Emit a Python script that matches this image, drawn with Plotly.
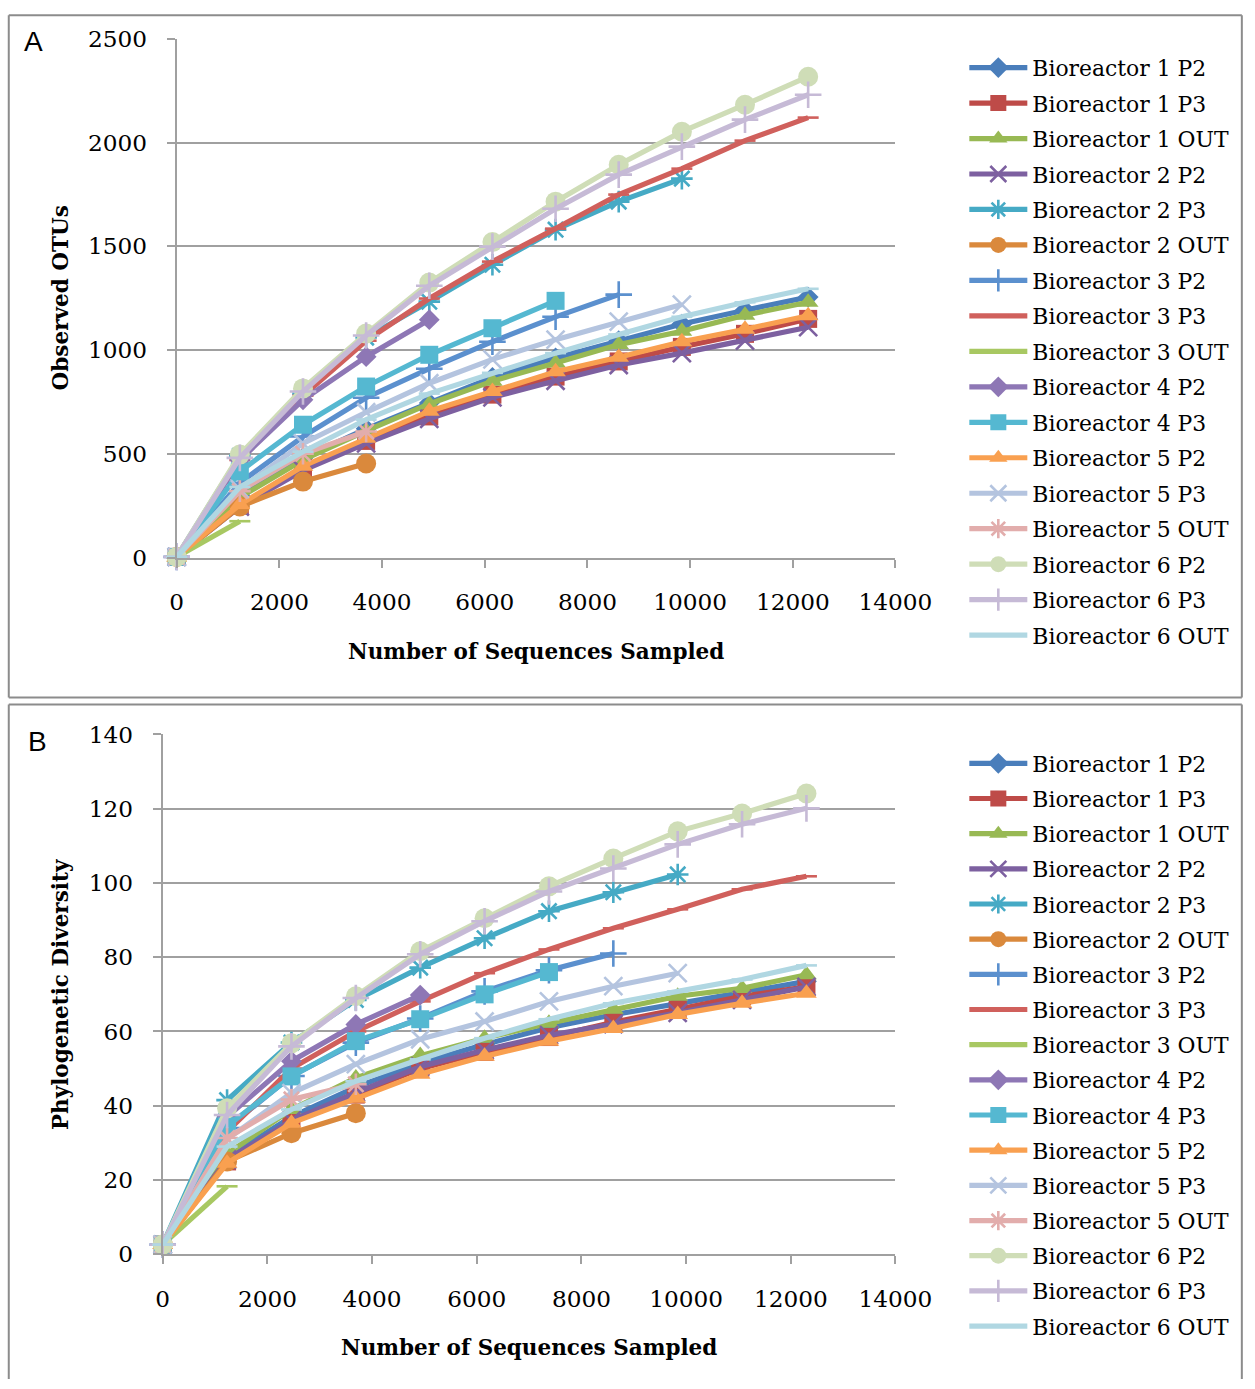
import plotly.graph_objects as go

# The captured page is slightly rescaled and offset by the body margin; layout positions
# below are given in target picture pixels and converted to figure pixels here.
W, H = 1280, 1392
SX, CX = 0.966, -1.5
SY, CY = 0.981, 4.4
OFF = 8


def PX(r):
    return (r - CX) / SX - OFF


def PY(r):
    return (r - CY) / SY - OFF


def X(r):
    return PX(r) / W


def Y(r):
    return 1 - PY(r) / H


# ---------------- data ----------------
seqs = [0, 1230, 2460, 3690, 4920, 6150, 7380, 8610, 9840, 11070, 12300]

series_names = [
    "Bioreactor 1 P2", "Bioreactor 1 P3", "Bioreactor 1 OUT",
    "Bioreactor 2 P2", "Bioreactor 2 P3", "Bioreactor 2 OUT",
    "Bioreactor 3 P2", "Bioreactor 3 P3", "Bioreactor 3 OUT",
    "Bioreactor 4 P2", "Bioreactor 4 P3",
    "Bioreactor 5 P2", "Bioreactor 5 P3", "Bioreactor 5 OUT",
    "Bioreactor 6 P2", "Bioreactor 6 P3", "Bioreactor 6 OUT",
]

# Panel A: observed OTUs
otu_b1_p2 = [3, 300, 480, 620, 745, 868, 962, 1045, 1125, 1192, 1255]
otu_b1_p3 = [3, 250, 430, 562, 680, 785, 872, 945, 1015, 1078, 1150]
otu_b1_out = [3, 290, 470, 610, 740, 850, 938, 1026, 1090, 1168, 1230]
otu_b2_p2 = [3, 245, 420, 550, 668, 772, 852, 928, 985, 1045, 1110]
otu_b2_p3 = [3, 490, 790, 1060, 1233, 1411, 1580, 1715, 1826]
otu_b2_out = [3, 246, 366, 453]
otu_b3_p2 = [3, 360, 583, 770, 910, 1040, 1160, 1267]
otu_b3_p3 = [3, 470, 780, 1045, 1248, 1426, 1585, 1749, 1874, 2009, 2120]
otu_b3_out = [3, 175]
otu_b4_p2 = [3, 470, 760, 968, 1146]
otu_b4_p3 = [3, 414, 640, 824, 977, 1105, 1237]
otu_b5_p2 = [3, 255, 440, 575, 705, 800, 895, 965, 1040, 1100, 1165]
otu_b5_p3 = [3, 330, 550, 700, 840, 955, 1050, 1137, 1219]
otu_b5_out = [3, 320, 500, 607]
otu_b6_p2 = [3, 496, 815, 1079, 1325, 1520, 1715, 1893, 2052, 2182, 2317]
otu_b6_p3 = [3, 480, 800, 1070, 1310, 1498, 1681, 1845, 1980, 2110, 2230]
otu_b6_out = [3, 340, 510, 665, 790, 890, 985, 1075, 1160, 1230, 1295]

# Panel B: phylogenetic diversity
pd_b1_p2 = [2.6, 26, 37, 45, 51.5, 56.5, 61, 64.5, 67.5, 70.5, 73.5]
pd_b1_p3 = [2.6, 25, 35.5, 43, 50, 54.5, 58.5, 62.5, 66, 69.5, 72]
pd_b1_out = [2.6, 27, 39, 47.5, 53.5, 58.2, 62.2, 66, 69.5, 71.6, 75.3]
pd_b2_p2 = [2.6, 25.5, 36, 43.5, 50.5, 55, 59, 62, 65, 68.5, 72]
pd_b2_p3 = [2.6, 41.5, 57, 68.5, 77.2, 85.1, 92.4, 97.5, 102.3]
pd_b2_out = [2.6, 25, 32.6, 38]
pd_b3_p2 = [2.6, 34, 48, 57, 63.5, 70.8, 76.5, 81]
pd_b3_p3 = [2.6, 33, 50, 60, 68.1, 75.7, 82.1, 87.8, 92.9, 98.3, 101.8]
pd_b3_out = [2.6, 18.3]
pd_b4_p2 = [2.6, 37, 52, 61.9, 69.8]
pd_b4_p3 = [2.6, 34.5, 47.9, 57.4, 63.3, 70, 76]
pd_b5_p2 = [2.6, 24.5, 35.3, 42, 48.5, 53.3, 57.4, 60.8, 64.6, 67.6, 70.3]
pd_b5_p3 = [2.6, 31, 43.4, 51.2, 57.9, 62.7, 68.1, 72.2, 75.7]
pd_b5_out = [2.6, 31.3, 41.7, 45.8]
pd_b6_p2 = [2.6, 39.3, 56.8, 69.5, 81.6, 90.5, 99.1, 106.6, 113.9, 118.7, 124.1]
pd_b6_p3 = [2.6, 37.5, 56, 69, 80.8, 89.7, 97.7, 103.9, 110.4, 115.8, 120.1]
pd_b6_out = [2.6, 29, 39, 46.6, 52.5, 58.2, 63.3, 67.6, 70.8, 74, 77.8]

x_ticks = [0, 2000, 4000, 6000, 8000, 10000, 12000, 14000]
otu_ticks = [0, 500, 1000, 1500, 2000, 2500]
pd_ticks = [0, 20, 40, 60, 80, 100, 120, 140]

otu_series = [otu_b1_p2, otu_b1_p3, otu_b1_out, otu_b2_p2, otu_b2_p3, otu_b2_out,
              otu_b3_p2, otu_b3_p3, otu_b3_out, otu_b4_p2, otu_b4_p3,
              otu_b5_p2, otu_b5_p3, otu_b5_out, otu_b6_p2, otu_b6_p3, otu_b6_out]
pd_series = [pd_b1_p2, pd_b1_p3, pd_b1_out, pd_b2_p2, pd_b2_p3, pd_b2_out,
             pd_b3_p2, pd_b3_p3, pd_b3_out, pd_b4_p2, pd_b4_p3,
             pd_b5_p2, pd_b5_p3, pd_b5_out, pd_b6_p2, pd_b6_p3, pd_b6_out]

# ---------------- styles ----------------
colors = ["#4A7EBB", "#BE4B48", "#98B954", "#7D60A0", "#46AAC5", "#DA893C",
          "#5B90CE", "#D0605C", "#A8C862", "#8E77B5", "#55B8D1",
          "#F9A050", "#B4C4DF", "#E2ADAC", "#CFDDB7", "#C6BAD6", "#B0D7E2"]
symbols = ["diamond", "square", "triangle-up", "x-thin-open", "asterisk-open", "circle",
           "cross-thin-open", "line-ew-open", "line-ew-open", "diamond", "square",
           "triangle-up", "x-thin-open", "asterisk-open", "circle", "cross-thin-open", "line-ew-open"]
sizes = {"diamond": 16, "square": 18, "triangle-up": 18, "x-thin-open": 18,
         "asterisk-open": 18, "circle": 20, "cross-thin-open": 19, "line-ew-open": 15}

SERIF = "DejaVu Serif"
GRID = "#A0A0A0"

fig = go.Figure()

for panel, (data, xa, ya, leg) in enumerate([(otu_series, "x", "y", "legend"),
                                             (pd_series, "x2", "y2", "legend2")]):
    for i, (name, vals) in enumerate(zip(series_names, data)):
        sym = symbols[i]
        openish = sym.endswith("-open")
        fig.add_trace(go.Scatter(
            x=seqs[:len(vals)], y=vals, name=name, mode="lines+markers",
            xaxis=xa, yaxis=ya, legend=leg, legendgroup=f"{panel}-{i}",
            cliponaxis=False,
            line=dict(color=colors[i], width=5.2),
            marker=dict(symbol=sym, size=sizes[sym], color=colors[i],
                        line=dict(color=colors[i], width=2.6 if openish else 0)),
        ))

axis_common = dict(showline=True, linecolor=GRID, linewidth=2, ticks="outside",
                   ticklen=8, tickwidth=2, tickcolor=GRID, mirror=False,
                   tickfont=dict(family=SERIF, size=23.2, color="black"),
                   zeroline=False)

fig.update_layout(
    width=W, height=H, margin=dict(l=0, r=0, t=0, b=0),
    paper_bgcolor="white", plot_bgcolor="white", showlegend=True,
    xaxis=dict(domain=[X(176), X(895)], range=[0, 14000], tickvals=x_ticks, tickformat="d",
               showgrid=False, anchor="y", ticklabelstandoff=15, **axis_common),
    yaxis=dict(domain=[Y(556), Y(37)], range=[0, 2500], tickvals=otu_ticks, tickformat="d",
               showgrid=True, gridcolor=GRID, gridwidth=2, anchor="x",
               ticklabelstandoff=15, **axis_common),
    xaxis2=dict(domain=[X(162), X(895)], range=[0, 14000], tickvals=x_ticks, tickformat="d",
                showgrid=False, anchor="y2", ticklabelstandoff=15, **axis_common),
    yaxis2=dict(domain=[Y(1253), Y(733)], range=[0, 140], tickvals=pd_ticks, tickformat="d",
                showgrid=True, gridcolor=GRID, gridwidth=2, anchor="x2",
                ticklabelstandoff=15, **axis_common),
    legend=dict(x=991.4 / W, y=1 - 33.5 / H, xanchor="left", yanchor="top",
                font=dict(family=SERIF, size=21.9, color="black"),
                tracegroupgap=4.0, itemwidth=58, bgcolor="rgba(0,0,0,0)"),
    legend2=dict(x=991.4 / W, y=1 - 743 / H, xanchor="left", yanchor="top",
                 font=dict(family=SERIF, size=21.9, color="black"),
                 tracegroupgap=3.7, itemwidth=58, bgcolor="rgba(0,0,0,0)"),
)

# panel frames (kept inside the figure)
FRAME = dict(type="line", xref="paper", yref="paper", line=dict(color="#8C8C8C", width=2),
             layer="below")
left, right, top = X(8), 1 - 1.2 / W, 1 - 1.2 / H
fig.add_shape(x0=left, x1=right, y0=top, y1=top, **FRAME)                 # A top
fig.add_shape(x0=left, x1=right, y0=Y(696), y1=Y(696), **FRAME)           # A bottom
fig.add_shape(x0=left, x1=left, y0=Y(696), y1=top, **FRAME)               # A left
fig.add_shape(x0=right, x1=right, y0=Y(696), y1=top, **FRAME)             # A right
fig.add_shape(x0=left, x1=right, y0=Y(703), y1=Y(703), **FRAME)           # B top
fig.add_shape(x0=left, x1=left, y0=0, y1=Y(703), **FRAME)                 # B left
fig.add_shape(x0=right, x1=right, y0=0, y1=Y(703), **FRAME)               # B right

ann = []
ann.append(dict(text="A", x=X(33), y=Y(40), font=dict(family="Liberation Sans", size=28)))
ann.append(dict(text="B", x=X(37), y=Y(740), font=dict(family="Liberation Sans", size=28)))
ann.append(dict(text="<b>Number of Sequences Sampled</b>", x=X(535), y=Y(650),
                font=dict(family=SERIF, size=21.5)))
ann.append(dict(text="<b>Number of Sequences Sampled</b>", x=X(528), y=Y(1346),
                font=dict(family=SERIF, size=21.5)))
ann.append(dict(text="<b>Observed OTUs</b>", x=X(60), y=Y(296), textangle=-90,
                font=dict(family=SERIF, size=21.5)))
ann.append(dict(text="<b>Phylogenetic Diversity</b>", x=X(60), y=Y(993), textangle=-90,
                font=dict(family=SERIF, size=21.5)))
for a in ann:
    a.update(xref="paper", yref="paper", showarrow=False, xanchor="center", yanchor="middle")
    a["font"]["color"] = "black"
fig.update_layout(annotations=ann)

fig.write_html("out.html")
